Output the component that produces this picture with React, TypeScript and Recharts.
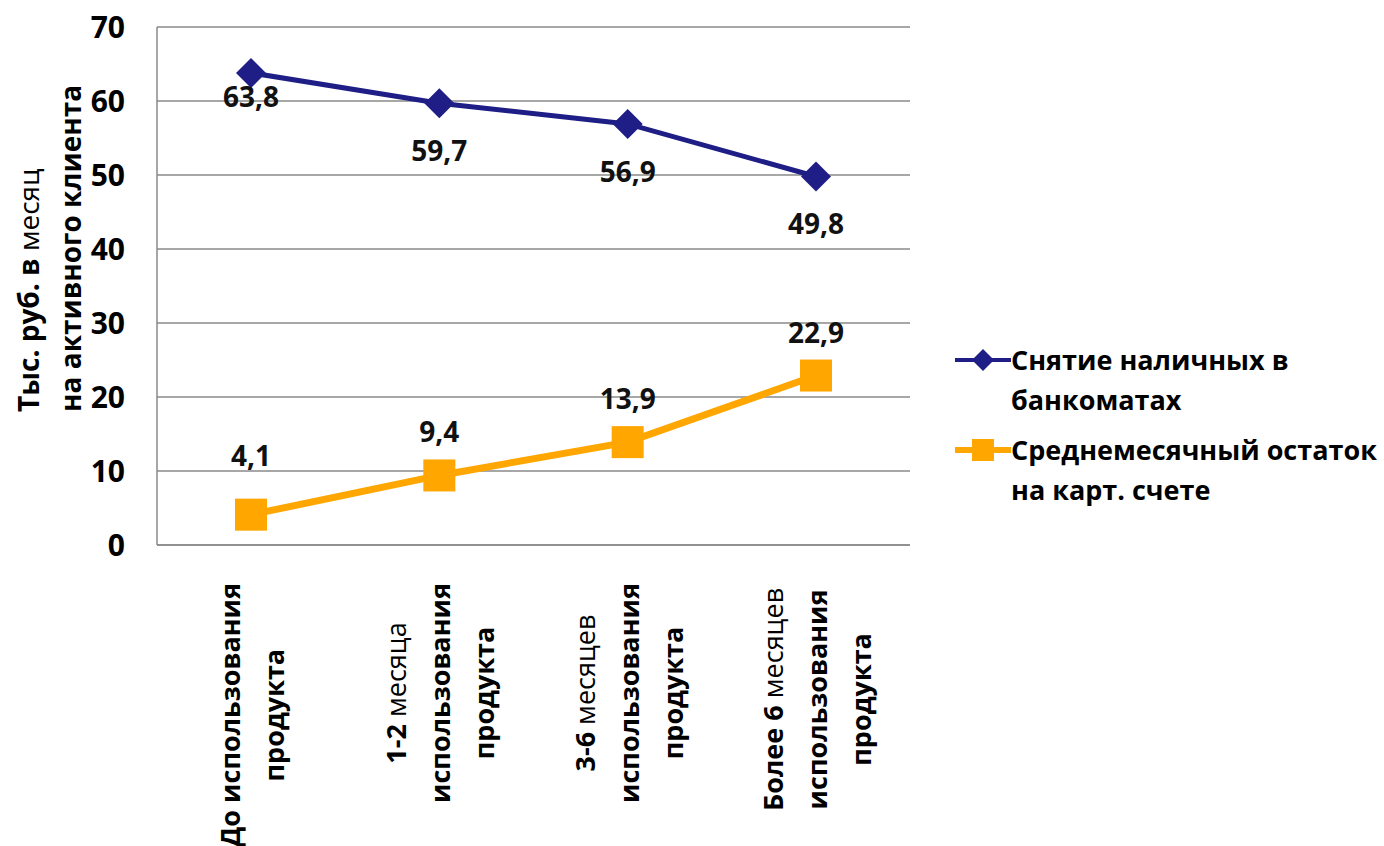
import { CartesianGrid, Line, LineChart, XAxis, YAxis, LabelList } from 'recharts';

const categories = [
    "До использования\nпродукта",
    "1-2 месяца\nиспользования\nпродукта",
    "3-6 месяцев\nиспользования\nпродукта",
    "Более 6 месяцев\nиспользования\nпродукта",
];
const cashWithdrawal = [63.8, 59.7, 56.9, 49.8];
const avgBalance = [4.1, 9.4, 13.9, 22.9];
const seriesNames = ["Снятие наличных в\nбанкоматах", "Среднемесячный остаток\nна карт. счете"];
const yTicks = [0, 10, 20, 30, 40, 50, 60, 70];
const yLabelLines = ["Тыс. руб. в месяц", "на активного клиента"];

const data = categories.map((c, i) => ({ name: c, cash: cashWithdrawal[i], balance: avgBalance[i] }));

const FONT = '"Open Sans", "Noto Sans", sans-serif';
const BLUE = '#1E1E86';
const ORANGE = '#FFA700';

// words with "меся..." look lighter in the original, keep that
const Words = ({ text }: { text: string }) => <>
    {text.split(' ').map((w, i) => (
        <tspan key={i} fontWeight={w.startsWith('меся') ? 400 : 700}>{(i ? ' ' : '') + w}</tspan>
    ))}
</>;

let ctx: CanvasRenderingContext2D | null = null;
const measure = (s: string, size: number) => {
    if (!ctx) ctx = document.createElement('canvas').getContext('2d');
    if (!ctx) return s.length * size * 0.6;
    ctx.font = `bold ${size}px ${FONT}`;
    return ctx.measureText(s).width;
};

function XTick({ x, y, payload }: any) {
    const lines: string[] = String(payload.value).split('\n');
    const size = 27;
    const lh = 44;
    const maxW = Math.max(...lines.map(l => measure(l, size)));
    return <g transform={`translate(${x},${y + 30}) rotate(-90)`}>
        {lines.map((l, i) => (
            <text key={i} x={-maxW / 2} y={(i - (lines.length - 1) / 2) * lh}
                textAnchor="middle" dominantBaseline="central"
                fontFamily={FONT} fontSize={size} fill="#000">
                <Words text={l} />
            </text>
        ))}
    </g>;
}

const Diamond = ({ cx, cy, size = 15 }: any) =>
    <polygon points={`${cx - size},${cy} ${cx},${cy - size} ${cx + size},${cy} ${cx},${cy + size}`} fill={BLUE} />;
const Square = ({ cx, cy, size = 16 }: any) =>
    <rect x={cx - size} y={cy - size} width={size * 2} height={size * 2} fill={ORANGE} />;

const fmt = (v: number) => String(v).replace('.', ',');

function ValueLabel({ x, y, value, index, below }: any) {
    // first label sits closer to its point in the original
    const dy = below ? (index === 0 ? 23 : 47) : (index === 0 ? -60 : -44);
    return <text x={x} y={y + dy} textAnchor="middle" dominantBaseline="central"
        fontFamily={FONT} fontWeight={700} fontSize={28} fill="#111">{fmt(value)}</text>;
}

function LegendBox() {
    const colors = [BLUE, ORANGE];
    return <div style={{ position: 'absolute', left: 955, top: 340, fontFamily: FONT, fontWeight: 700, fontSize: 27, color: '#000', lineHeight: '40px' }}>
        {seriesNames.map((n, i) => (
            <div key={i} style={{ display: 'flex', alignItems: 'flex-start', marginBottom: 10 }}>
                <svg width={56} height={40} style={{ flexShrink: 0 }}>
                    <line x1={0} y1={20} x2={56} y2={20} stroke={colors[i]} strokeWidth={i ? 6 : 4} />
                    {i ? <Square cx={28} cy={20} size={11} /> : <Diamond cx={28} cy={20} size={11} />}
                </svg>
                <div>{n.split('\n').map((l, j) => <div key={j}>{l}</div>)}</div>
            </div>
        ))}
    </div>;
}

function YLabel() {
    return <g fontFamily={FONT} fontSize={28} fill="#000">
        {yLabelLines.map((l, i) => (
            <text key={i} transform={`translate(${28 + i * 42},412) rotate(-90)`}
                textAnchor="start" dominantBaseline="central"><Words text={l} /></text>
        ))}
    </g>;
}

export default function App() {
    return <div style={{ position: 'absolute', left: 0, top: 0, width: 1384, height: 846, background: '#fff' }}>
        <LineChart width={1384} height={846} data={data} margin={{ top: 27, right: 474, bottom: 0, left: 0 }}>
            <CartesianGrid vertical={false} stroke="#8a8a8a" strokeWidth={1.5} />
            <XAxis dataKey="name" height={301} padding={{ left: 94, right: 94 }} interval={0}
                axisLine={{ stroke: '#8a8a8a', strokeWidth: 1.5 }} tickLine={false} tick={<XTick />} />
            <YAxis width={157} domain={[0, 70]} ticks={yTicks} tickSize={0} tickMargin={32}
                axisLine={{ stroke: '#8a8a8a', strokeWidth: 1.5 }} tickLine={false}
                tick={{ fontFamily: FONT, fontWeight: 700, fontSize: 30, fill: '#000' }} />
            <Line dataKey="cash" name={seriesNames[0]} stroke={BLUE} strokeWidth={5}
                dot={(p: any) => <Diamond key={p.index} cx={p.cx} cy={p.cy} />} activeDot={false} isAnimationActive={false}>
                <LabelList dataKey="cash" content={(p: any) => <ValueLabel {...p} below />} />
            </Line>
            <Line dataKey="balance" name={seriesNames[1]} stroke={ORANGE} strokeWidth={7}
                dot={(p: any) => <Square key={p.index} cx={p.cx} cy={p.cy} />} activeDot={false} isAnimationActive={false}>
                <LabelList dataKey="balance" content={(p: any) => <ValueLabel {...p} />} />
            </Line>
            <YLabel />
        </LineChart>
        <LegendBox />
    </div>;
}
